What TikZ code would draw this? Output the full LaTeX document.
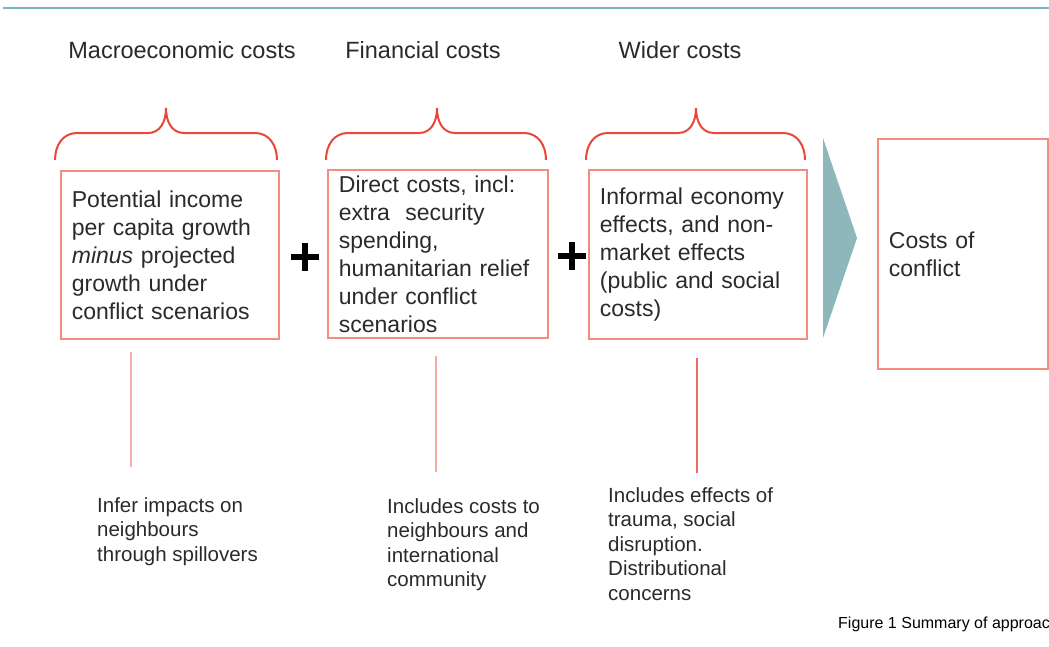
\documentclass[tikz,border=0pt]{standalone}
\usepackage{fontspec}
\setmainfont{Liberation Sans}
\definecolor{boxred}{HTML}{F28E7E}
\definecolor{bracered}{HTML}{E8473A}
\definecolor{linered}{HTML}{F5ACA2}
\definecolor{chevteal}{HTML}{8DB7BB}
\definecolor{ruleteal}{HTML}{7BB4C3}
\definecolor{textdark}{HTML}{2A2A2A}

\begin{document}
\begin{tikzpicture}[x=1pt,y=-1pt,
    costbox/.style={draw=boxred, line width=1.8pt, anchor=north west, align=left, inner xsep=11pt, inner ysep=0pt, text=textdark, font=\fontsize{23}{28}\selectfont},
    costhead/.style={text=textdark, font=\fontsize{23.5}{28}\selectfont},
    costnote/.style={anchor=north west, align=left, inner sep=0pt, text=textdark, font=\fontsize{20.5}{24.5}\selectfont},
    noteline/.style={linered, line width=1.6pt}]
    \def\costbrace#1#2#3{
    \draw[bracered, line width=2pt] (#1,160) .. controls (#1,145) and (#1+8,133) .. (#1+22,133) -- (#3-18,133) .. controls (#3-6,133) and (#3,122) .. (#3,108) .. controls (#3,122) and (#3+6,133) .. (#3+18,133) -- (#2-22,133) .. controls (#2-8,133) and (#2,145) .. (#2,160);
    }
    \def\plussign#1{
    \begin{scope}[shift={#1}]
    \draw[black, line width=6.5pt] (-14,0) -- (14,0) (0,-14) -- (0,14);
    \end{scope}
    }

    \useasboundingbox (0,0) rectangle (1049,646);

    \draw[ruleteal, line width=2.5pt] (3,8) -- (1049,8);

    \node[costhead] (headmacro) at (182,50) {Macroeconomic costs};
    \node[costhead] (headfin) at (423,50) {Financial costs};
    \node[costhead] (headwide) at (680,50) {Wider costs};

    \costbrace{55}{277}{166};
    \costbrace{326}{546}{437};
    \costbrace{586}{805}{696};

    \node[costbox, text width=196pt, minimum height=168pt] (macro) at (60,170) {Potential income\\per capita growth\\\textit{minus} projected\\growth under\\conflict scenarios};
    \node[costbox, text width=198pt, minimum height=168pt] (fin) at (327,169) {Direct costs, incl:\\extra\ \ security\\spending,\\humanitarian relief\\under conflict\\scenarios};
    \node[costbox, text width=196pt, minimum height=169pt] (wide) at (588,169) {Informal economy\\effects, and non-\\market effects\\(public and social\\costs)};
    \node[costbox, text width=148pt, minimum height=230pt] (total) at (877,138) {Costs of\\conflict};

    \plussign{(305,257)};
    \plussign{(572,256)};

    \fill[chevteal] (823,138) -- (857,238) -- (823,338) -- cycle;

    \coordinate (macrotop) at (131,352);
    \coordinate (macrobot) at (131,467);
    \coordinate (fintop) at (436,356);
    \coordinate (finbot) at (436,472);
    \coordinate (widetop) at (697,358);
    \coordinate (widebot) at (697,473);
    \draw[noteline] (macrotop) -- (macrobot);
    \draw[noteline] (fintop) -- (finbot);
    \draw[noteline, bracered!80] (widetop) -- (widebot);

    \node[costnote] (macronote) at (97,497) {Infer impacts on\\neighbours\\through spillovers};
    \node[costnote] (finnote) at (387,498) {Includes costs to\\neighbours and\\international\\community};
    \node[costnote] (widenote) at (608,487) {Includes effects of\\trauma, social\\disruption.\\Distributional\\concerns};

    \node[anchor=base west, inner sep=0pt, font=\fontsize{16}{19}\selectfont] (caption) at (838,628) {Figure 1 Summary of approach};
\end{tikzpicture}
\end{document}
